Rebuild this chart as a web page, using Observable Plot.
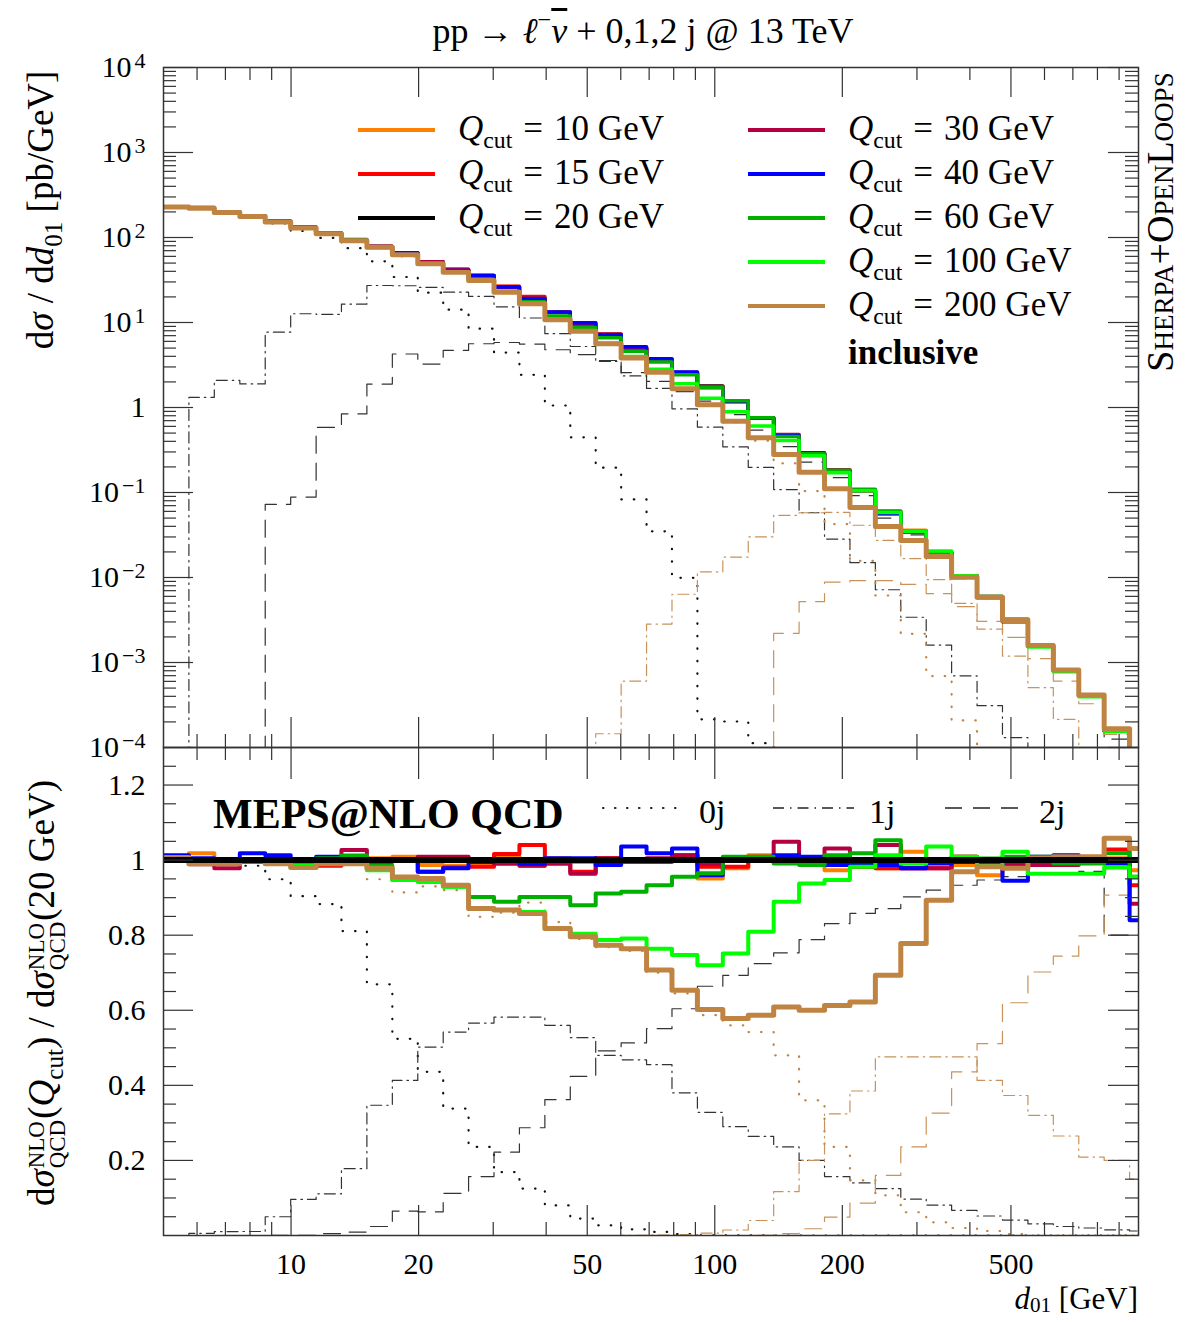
<!DOCTYPE html>
<html>
<head>
<meta charset="utf-8">
<script src="https://cdn.jsdelivr.net/npm/d3@7"></script>
<script src="https://cdn.jsdelivr.net/npm/@observablehq/plot@0.6"></script>
<style>
html,body{margin:0;padding:0;background:#fff;}
#root{position:relative;width:1198px;height:1322px;overflow:hidden;background:#fff;font-family:"Liberation Serif","DejaVu Serif",serif;color:#000;}
.pl{position:absolute;left:0;}
.lab{position:absolute;white-space:nowrap;line-height:1;}
.rot{transform:translate(-50%,-50%) rotate(-90deg);}
.sub{font-size:68%;vertical-align:-0.35em;}
.sup{font-size:68%;vertical-align:0.6em;}
.ss{display:inline-block;font-size:62%;line-height:0.92;vertical-align:-0.5em;text-align:left;margin:0 1px;}
.leg{position:absolute;white-space:nowrap;line-height:1;font-size:35px;transform:translateY(-50%);}
.sw{position:absolute;height:4px;width:77px;transform:translateY(-50%);}
.eq{margin:0 11px;}
.bar{text-decoration:overline;}
</style>
</head>
<body>
<div id="root">
  <div id="topplot" class="pl" style="top:0"></div>
  <div id="botplot" class="pl" style="top:700px"></div>

  <div class="lab" style="left:643px;top:8px;font-size:36px;transform:translateX(-50%)">pp → <i>ℓ</i><span class="sup">−</span><i class="bar">ν</i> + 0,1,2 j @ 13 TeV</div>

  <div class="lab rot" style="left:44px;top:210px;font-size:37px">d<i>σ</i> / d<i>d</i><span class="sub">01</span> [pb/GeV]</div>
  <div class="lab rot" style="left:46px;top:993px;font-size:37px">d<i>σ</i><span class="ss">NLO<br>QCD</span>(<i>Q</i><span class="sub">cut</span>) / d<i>σ</i><span class="ss">NLO<br>QCD</span>(20 GeV)</div>
  <div class="lab rot" style="left:1160px;top:222px;font-size:38px;font-variant:small-caps">Sherpa+OpenLoops</div>
  <div class="lab" style="right:60px;top:1283px;font-size:31px;line-height:31px;height:33px"><i>d</i><span style="font-size:68%;vertical-align:-0.15em;line-height:0">01</span> [GeV]</div>

  <div id="legend"></div>

  <div class="lab" style="left:213px;top:793px;font-size:42px;font-weight:bold">MEPS@NLO QCD</div>
  <svg class="lab" style="left:600px;top:800px" width="84" height="16"><line x1="3" y1="8" x2="81" y2="8" stroke="#222" stroke-width="2.2" stroke-dasharray="0.5,11.5" stroke-linecap="round"/></svg>
  <div class="lab" style="left:699px;top:795px;font-size:34px">0j</div>
  <svg class="lab" style="left:770px;top:800px" width="86" height="16"><line x1="3" y1="8" x2="84" y2="8" stroke="#222" stroke-width="1.3" stroke-dasharray="11,6,1.5,6"/></svg>
  <div class="lab" style="left:869px;top:795px;font-size:34px">1j</div>
  <svg class="lab" style="left:942px;top:800px" width="84" height="16"><line x1="3" y1="8" x2="82" y2="8" stroke="#222" stroke-width="1.3" stroke-dasharray="17,11"/></svg>
  <div class="lab" style="left:1039px;top:795px;font-size:34px">2j</div>
</div>

<script>
// ---------------- data ----------------
const binEdges = [5.00, 5.74, 6.59, 7.57, 8.69, 9.98, 11.46, 13.15, 15.10, 17.34, 19.91, 22.86, 26.24, 30.13, 34.59, 39.72, 45.60, 52.36, 60.12, 69.02, 79.25, 90.99, 104.47, 119.95, 137.72, 158.12, 181.55, 208.45, 239.33, 274.79, 315.5, 362.2, 415.9, 477.5, 548.3, 629.5, 722.8, 829.8, 952.8, 1094];

// inclusive cross section, Qcut = 20 GeV [pb/GeV]
const ref20 = [227, 223, 199, 177, 154, 132, 112, 92.3, 78.5, 65.5, 51.5, 41.9, 35.8, 26.2, 19.4, 13.2, 9.9, 7.26, 5.02, 3.68, 2.54, 1.79, 1.19, 0.75, 0.459, 0.289, 0.180, 0.107, 0.0574, 0.0351, 0.0198, 0.0104, 0.00597, 0.00319, 0.00158, 0.00081, 0.00041, 0.000157, 0.00007];

// ratios to Qcut = 20 GeV
const ratio10 = [1.009, 1.018, 1.0, 1.0, 1.005, 1.0, 0.995, 0.99, 1.005, 1.009, 0.987, 0.985, 0.985, 1.009, 0.985, 1.005, 0.995, 0.995, 0.995, 1.0, 1.005, 0.951, 0.978, 1.013, 1.0, 1.0, 0.973, 0.982, 0.978, 1.022, 0.995, 0.987, 0.96, 0.99, 1.0, 1.005, 1.005, 1.005, 0.973];
const ratio15 = [1.0, 1.0, 1.0, 1.0, 1.0, 0.982, 0.985, 1.0, 1.0, 1.0, 0.969, 0.98, 0.982, 1.016, 1.04, 1.0, 0.969, 1.005, 0.995, 0.995, 1.013, 0.982, 0.982, 1.009, 1.005, 1.0, 1.0, 0.982, 0.978, 0.978, 0.978, 1.009, 0.985, 0.985, 0.987, 0.995, 1.004, 1.028, 0.933];
const ratio30 = [1.0, 0.989, 0.978, 0.995, 1.0, 1.0, 1.0, 1.027, 0.995, 1.0, 1.009, 1.009, 1.0, 0.99, 0.985, 0.99, 0.964, 1.005, 1.0, 1.005, 1.013, 0.99, 1.005, 1.005, 1.049, 1.0, 1.031, 0.987, 1.04, 0.978, 0.978, 1.009, 0.991, 0.987, 0.987, 0.987, 0.995, 1.0, 0.884];
const ratio40 = [1.013, 1.005, 1.0, 1.018, 1.013, 1.0, 1.009, 1.0, 1.0, 1.0, 0.969, 0.978, 0.995, 1.0, 0.99, 1.005, 1.005, 0.987, 1.036, 1.018, 1.031, 0.96, 1.005, 1.0, 1.013, 1.009, 0.987, 0.987, 0.987, 0.978, 0.991, 0.995, 0.995, 0.945, 1.009, 1.013, 1.0, 0.991, 0.84];
const ratio60 = [1.0, 1.0, 0.995, 0.995, 1.0, 0.995, 1.005, 1.012, 0.985, 0.947, 0.945, 0.93, 0.902, 0.889, 0.902, 0.902, 0.88, 0.911, 0.916, 0.933, 0.956, 0.965, 1.009, 1.009, 0.991, 0.987, 1.013, 1.018, 1.053, 0.996, 1.0, 1.004, 1.004, 1.009, 1.009, 0.991, 0.991, 1.018, 0.956];
const ratio100 = [1.0, 1.0, 0.995, 1.0, 0.995, 0.985, 0.99, 0.995, 0.973, 0.947, 0.942, 0.929, 0.871, 0.867, 0.862, 0.818, 0.804, 0.787, 0.791, 0.764, 0.747, 0.72, 0.751, 0.809, 0.889, 0.938, 0.947, 0.982, 1.013, 0.99, 1.036, 1.009, 0.985, 1.022, 0.964, 0.964, 0.964, 0.98, 0.956];
const ratio200 = [1.007, 0.99, 0.99, 1.0, 0.99, 0.98, 0.99, 0.99, 0.978, 0.955, 0.951, 0.933, 0.871, 0.867, 0.858, 0.818, 0.796, 0.773, 0.764, 0.707, 0.653, 0.602, 0.578, 0.587, 0.609, 0.6, 0.613, 0.622, 0.693, 0.778, 0.893, 0.969, 0.982, 0.978, 1.004, 1.009, 1.009, 1.058, 1.031];

// jet-multiplicity contributions, as fractions of the Qcut = 20 GeV inclusive result
const frac0j20 = [1.0, 1.0, 0.995, 0.985, 0.949, 0.904, 0.883, 0.811, 0.669, 0.524, 0.436, 0.338, 0.236, 0.169, 0.125, 0.08, 0.045, 0.027, 0.0165, 0.0095, 0.0039, 0.00012, 0.00017, 0.00015, 0, 0, 0, 0, 0, 0, 0, 0, 0, 0, 0, 0, 0, 0, 0];
const frac1j20 = [0, 0.0059, 0.0105, 0.0107, 0.05, 0.096, 0.111, 0.178, 0.347, 0.413, 0.502, 0.542, 0.566, 0.582, 0.582, 0.56, 0.527, 0.48, 0.468, 0.455, 0.38, 0.328, 0.29, 0.264, 0.236, 0.2, 0.157, 0.14, 0.125, 0.097, 0.081, 0.067, 0.052, 0.041, 0.031, 0.024, 0.02, 0.015, 0.012];
const frac2j20 = [0, 0, 0, 0, 0.00047, 0.00067, 0.0052, 0.0091, 0.024, 0.065, 0.063, 0.112, 0.157, 0.222, 0.287, 0.362, 0.424, 0.492, 0.513, 0.551, 0.604, 0.664, 0.693, 0.724, 0.753, 0.788, 0.831, 0.858, 0.871, 0.902, 0.92, 0.933, 0.947, 0.956, 0.964, 0.965, 0.97, 0.8, 0.8];
const frac0j200 = [1.0, 0.99, 0.99, 1.0, 0.99, 0.98, 0.99, 0.99, 0.949, 0.914, 0.93, 0.92, 0.849, 0.86, 0.887, 0.835, 0.79, 0.768, 0.758, 0.70, 0.645, 0.587, 0.56, 0.542, 0.48, 0.36, 0.236, 0.147, 0.107, 0.062, 0.035, 0.02, 0.012, 0.004, 0, 0, 0, 0, 0];
const frac1j200 = [0, 0, 0, 0, 0, 0, 0, 0, 0, 0, 0, 0, 0, 0, 0, 0, 0, 0.00002, 0.00012, 0.00077, 0.0025, 0.0065, 0.0146, 0.04, 0.117, 0.2, 0.324, 0.385, 0.476, 0.476, 0.476, 0.476, 0.413, 0.373, 0.32, 0.265, 0.209, 0.2, 0.15];
const frac2j200 = [0, 0, 0, 0, 0, 0, 0, 0, 0, 0, 0, 0, 0, 0, 0, 0, 0, 0, 0, 0, 0, 0, 0, 0.00007, 0.0048, 0.018, 0.049, 0.086, 0.16, 0.236, 0.326, 0.436, 0.511, 0.62, 0.702, 0.744, 0.798, 0.907, 0.93];

// axes
const xMajor = [10, 20, 50, 100, 200, 500];
const xTickLabels = ["10", "20", "50", "100", "200", "500"];
const xMinor = [6, 7, 8, 9, 30, 40, 60, 70, 80, 90, 300, 400, 600, 700, 800, 900];
const yTopTicks = [1e-4, 1e-3, 1e-2, 1e-1, 1, 10, 100, 1e3, 1e4];
const yTopLabels = ["10^−4", "10^−3", "10^−2", "10^−1", "1", "10^1", "10^2", "10^3", "10^4"];
const yBotTicks = [0.2, 0.4, 0.6, 0.8, 1, 1.2];
const yBotLabels = ["0.2", "0.4", "0.6", "0.8", "1", "1.2"];
const yBotMinor = [0.05, 0.1, 0.15, 0.25, 0.3, 0.35, 0.45, 0.5, 0.55, 0.65, 0.7, 0.75, 0.85, 0.9, 0.95, 1.05, 1.1, 1.15, 1.25];

// legend
const qcutLabels = ["10", "15", "20", "30", "40", "60", "100", "200"];
const qcutColors = ["#ff8000", "#ff0000", "#000000", "#b40040", "#0000ff", "#00b000", "#00ff00", "#c08442"];

// ---------------- build ----------------
const nb = ref20.length;
const yTopMinor = [];
for (let e = -4; e < 4; e++) for (let k = 2; k < 10; k++) yTopMinor.push(k * Math.pow(10, e));

function steps(vals) {
  const out = vals.map((v, i) => ({x: binEdges[i], y: v}));
  out.push({x: binEdges[nb], y: vals[nb - 1]});
  return out;
}
const lo = v => Math.max(v, 1e-7);

const ratios = [ratio10, ratio15, null, ratio30, ratio40, ratio60, ratio100, ratio200];
const widthsTop = [3.5, 3.5, 3.5, 3.5, 3.5, 3.5, 3.5, 5];
const widthsBot = [4, 4, 4, 4, 4, 4, 4, 5];

const dotted = {strokeDasharray: "0.5,12", strokeLinecap: "round", strokeWidth: 2.2};
const dashdot = {strokeDasharray: "11,5,1.5,5", strokeWidth: 1.2};
const dashed = {strokeDasharray: "17,10", strokeWidth: 1.2};
const compDefs = [
  {frac: frac0j20, stroke: "#111", st: dotted},
  {frac: frac1j20, stroke: "#333", st: dashdot},
  {frac: frac2j20, stroke: "#333", st: dashed},
  {frac: frac0j200, stroke: "#c08442", st: dotted},
  {frac: frac1j200, stroke: "#c8925a", st: dashdot},
  {frac: frac2j200, stroke: "#c8925a", st: dashed}
];

function tickMarks(H, Wf, yMaj, yMin, topMaj, topMin, botMaj, botMin) {
  const st = {stroke: "#333", strokeWidth: 1.2};
  return [
    Plot.ruleX(xMajor, {...st, insetBottom: H - topMaj}),
    Plot.ruleX(xMinor, {...st, insetBottom: H - topMin}),
    Plot.ruleX(xMajor, {...st, insetTop: H - botMaj}),
    Plot.ruleX(xMinor, {...st, insetTop: H - botMin}),
    Plot.ruleY(yMaj, {...st, insetRight: Wf - 30}),
    Plot.ruleY(yMin, {...st, insetRight: Wf - 13}),
    Plot.ruleY(yMaj, {...st, insetLeft: Wf - 30}),
    Plot.ruleY(yMin, {...st, insetLeft: Wf - 13})
  ];
}

const styleBase = {background: "transparent", fontFamily: '"Liberation Serif", "DejaVu Serif", serif', fontSize: "30px", color: "#000", overflow: "visible"};

// top panel
const topMarks = [];
compDefs.forEach(c => {
  topMarks.push(Plot.line(steps(c.frac.map((f, i) => lo(f * ref20[i]))), {x: "x", y: "y", curve: "step-after", stroke: c.stroke, ...c.st, clip: true}));
});
topMarks.push(Plot.line(steps(ref20), {x: "x", y: "y", curve: "step-after", stroke: qcutColors[2], strokeWidth: widthsTop[2], clip: true}));
[0, 1, 3, 4, 5, 6, 7].forEach(j => {
  topMarks.push(Plot.line(steps(ratios[j].map((r, i) => lo(r * ref20[i]))), {x: "x", y: "y", curve: "step-after", stroke: qcutColors[j], strokeWidth: widthsTop[j], clip: true}));
});

const topSvg = Plot.plot({
  width: 1198, height: 760,
  marginTop: 67, marginBottom: 13, marginLeft: 163, marginRight: 60,
  style: styleBase,
  x: {type: "log", domain: [5, 1000], axis: null},
  y: {type: "log", domain: [1e-4, 1e4]},
  marks: [
    ...topMarks,
    ...tickMarks(680, 975, yTopTicks, yTopMinor, 30, 13, 30, 13),
    Plot.frame({stroke: "#333", strokeWidth: 1.5}),
    Plot.axisY(yTopTicks, {tickSize: 0, tickPadding: 18, label: null, tickFormat: d => yTopLabels[yTopTicks.indexOf(d)]})
  ]
});
document.getElementById("topplot").appendChild(topSvg);

// superscripts for the 10^n labels
const NS = "http://www.w3.org/2000/svg";
topSvg.querySelectorAll('[aria-label="y-axis tick label"] text').forEach(t => {
  const s = t.textContent;
  if (s.indexOf("^") < 0) return;
  const [b, e] = s.split("^");
  t.textContent = "";
  const a = document.createElementNS(NS, "tspan"); a.textContent = b;
  const c = document.createElementNS(NS, "tspan"); c.textContent = e;
  c.setAttribute("dy", "-0.42em"); c.setAttribute("font-size", "22"); c.setAttribute("dx", "3");
  t.appendChild(a); t.appendChild(c);
});

// bottom panel
const botMarks = [];
compDefs.forEach(c => {
  botMarks.push(Plot.line(steps(c.frac), {x: "x", y: "y", curve: "step-after", stroke: c.stroke, ...c.st, clip: true}));
});
[0, 1, 3, 4, 5, 6, 7].forEach(j => {
  botMarks.push(Plot.line(steps(ratios[j]), {x: "x", y: "y", curve: "step-after", stroke: qcutColors[j], strokeWidth: widthsBot[j], clip: true}));
});
botMarks.push(Plot.ruleY([1], {stroke: "#000", strokeWidth: 6}));

const botSvg = Plot.plot({
  width: 1198, height: 622,
  marginTop: 47, marginBottom: 87, marginLeft: 163, marginRight: 60,
  style: styleBase,
  x: {type: "log", domain: [5, 1000]},
  y: {domain: [0, 1.3]},
  marks: [
    ...botMarks,
    ...tickMarks(488, 975, yBotTicks, yBotMinor, 32, 13, 30, 13),
    Plot.frame({stroke: "#333", strokeWidth: 1.5}),
    Plot.axisY(yBotTicks, {tickSize: 0, tickPadding: 18, label: null, tickFormat: d => yBotLabels[yBotTicks.indexOf(d)]}),
    Plot.axisX(xMajor, {tickSize: 0, tickPadding: 17, label: null, tickFormat: d => xTickLabels[xMajor.indexOf(d)]})
  ]
});
document.getElementById("botplot").appendChild(botSvg);

// legend
const leg = document.getElementById("legend");
qcutLabels.forEach((q, i) => {
  const col = i < 3 ? 0 : 1;
  const row = i < 3 ? i : i - 3;
  const y = 130 + row * 44;
  const lx = col === 0 ? 358 : 748;
  const sw = document.createElement("div");
  sw.className = "sw";
  sw.style.left = lx + "px"; sw.style.top = y + "px"; sw.style.background = qcutColors[i];
  leg.appendChild(sw);
  const tx = document.createElement("div");
  tx.className = "leg";
  tx.style.left = (lx + 100) + "px"; tx.style.top = (y + 2) + "px";
  tx.innerHTML = '<i>Q</i><span class="sub">cut</span><span class="eq">=</span>' + q + ' GeV';
  leg.appendChild(tx);
});
const inc = document.createElement("div");
inc.className = "leg";
inc.style.left = "848px"; inc.style.top = "352px"; inc.style.fontWeight = "bold";
inc.textContent = "inclusive";
leg.appendChild(inc);
</script>
</body>
</html>
